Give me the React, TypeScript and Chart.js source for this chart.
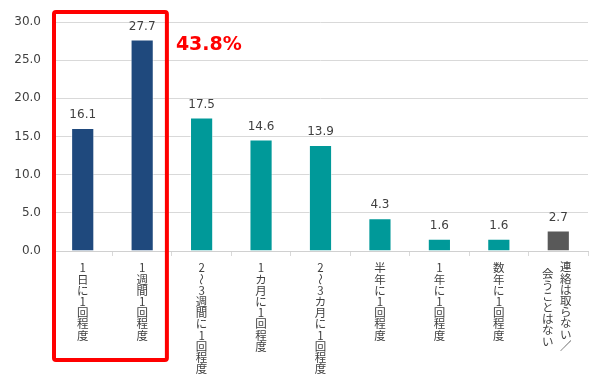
import React, { useEffect, useRef } from "react";
import { Chart, registerables } from "chart.js";

Chart.register(...registerables);

const categories = [
  "1日に1回程度",
  "1週間1回程度",
  "2～3週間に1回程度",
  "1カ月に1回程度",
  "2～3カ月に1回程度",
  "半年に1回程度",
  "1年に1回程度",
  "数年に1回程度",
  "連絡は取らない／\n会うことはない",
];
const values = [16.1, 27.7, 17.5, 14.6, 13.9, 4.3, 1.6, 1.6, 2.7];
const groups = ["daily", "daily", "other", "other", "other", "other", "other", "other", "none"];
const groupColors: Record<string, string> = {
  daily: "#1F497D",
  other: "#009999",
  none: "#595959",
};
const yTicks = [0, 5, 10, 15, 20, 25, 30];
const highlightCount = 2;
const highlightText = "43.8%";

const textColor = "#404040";

const valueLabels = {
  id: "valueLabels",
  afterDatasetsDraw(chart: any) {
    const ctx = chart.ctx;
    const meta = chart.getDatasetMeta(0);
    ctx.save();
    ctx.font = '12px "DejaVu Sans"';
    ctx.fillStyle = textColor;
    ctx.textAlign = "center";
    ctx.textBaseline = "middle";
    meta.data.forEach((bar: any, i: number) => {
      ctx.fillText(values[i].toFixed(1), bar.x, bar.y - 13);
    });
    ctx.restore();
  },
};

const verticalLabels = {
  id: "verticalLabels",
  afterDraw(chart: any) {
    const ctx = chart.ctx;
    const xs = chart.scales.x;
    const step = 11.2;
    const startY = chart.chartArea.bottom + 17;
    ctx.save();
    ctx.font = '11.5px "Noto Sans CJK JP"';
    ctx.fillStyle = textColor;
    ctx.textAlign = "center";
    ctx.textBaseline = "middle";
    categories.forEach((lab, i) => {
      const cx = xs.getPixelForValue(i);
      const cols = lab.split("\n");
      cols.forEach((col, j) => {
        let x = cx;
        let y0 = startY;
        if (cols.length > 1) {
          x = j === 0 ? cx + 7.5 : cx - 10.5;
          y0 = j === 0 ? startY - 1 : startY + 6;
        }
        Array.from(col).forEach((ch, k) => {
          const y = y0 + k * step;
          if (ch === "～") {
            ctx.save();
            ctx.translate(x, y);
            ctx.rotate(Math.PI / 2);
            ctx.fillText(ch, 0, 0);
            ctx.restore();
          } else {
            ctx.fillText(ch, x, y);
          }
        });
      });
    });
    ctx.restore();
  },
};

const highlight = {
  id: "highlight",
  afterDraw(chart: any) {
    const ctx = chart.ctx;
    const xs = chart.scales.x;
    const cw = xs.getPixelForValue(1) - xs.getPixelForValue(0);
    const left = xs.getPixelForValue(0) - cw / 2 + 1;
    const right = xs.getPixelForValue(highlightCount - 1) + cw / 2 - 5;
    const top = 12;
    const bottom = 360;
    ctx.save();
    ctx.strokeStyle = "#FF0000";
    ctx.lineWidth = 4;
    ctx.beginPath();
    if (ctx.roundRect) ctx.roundRect(left, top, right - left, bottom - top, 2);
    else ctx.rect(left, top, right - left, bottom - top);
    ctx.stroke();
    ctx.font = 'bold 19px "DejaVu Sans"';
    ctx.fillStyle = "#FF0000";
    ctx.textAlign = "left";
    ctx.textBaseline = "middle";
    ctx.fillText(highlightText, right + 9, 45);
    ctx.restore();
  },
};

export default function App() {
  const ref = useRef<HTMLCanvasElement>(null);
  useEffect(() => {
    const chart = new Chart(ref.current!, {
      type: "bar",
      data: {
        labels: categories,
        datasets: [
          {
            data: values,
            backgroundColor: groups.map((g) => groupColors[g]),
            borderColor: "rgba(255,255,255,0.55)",
            borderWidth: 1,
            barPercentage: 0.39,
            categoryPercentage: 1,
          },
        ],
      },
      options: {
        responsive: false,
        animation: false,
        layout: { padding: { top: 22, right: 12, bottom: 0, left: 0 } },
        plugins: {
          legend: { display: false },
          tooltip: { enabled: false },
        },
        scales: {
          x: {
            grid: {
              display: true,
              offset: true,
              drawOnChartArea: false,
              drawTicks: true,
              tickLength: 5,
              color: "#D9D9D9",
            },
            border: { display: true, color: "#D0D0D0" },
            ticks: { display: false },
            afterFit: (s: any) => {
              s.height = 136;
            },
          },
          y: {
            min: 0,
            max: 30,
            afterBuildTicks: (s: any) => {
              s.ticks = yTicks.map((v) => ({ value: v }));
            },
            grid: { color: "#D9D9D9", drawTicks: false },
            border: { display: false },
            ticks: {
              padding: 12,
              color: textColor,
              font: { family: "DejaVu Sans", size: 12 },
              callback: (v: any) => Number(v).toFixed(1),
            },
            afterFit: (s: any) => {
              s.width = 53;
            },
          },
        },
      },
      plugins: [valueLabels, verticalLabels, highlight],
    });
    return () => chart.destroy();
  }, []);
  return (
    <div style={{ position: "absolute", left: 0, top: 0, width: 600, height: 387, background: "#fff" }}>
      <canvas ref={ref} width={600} height={387} />
    </div>
  );
}
